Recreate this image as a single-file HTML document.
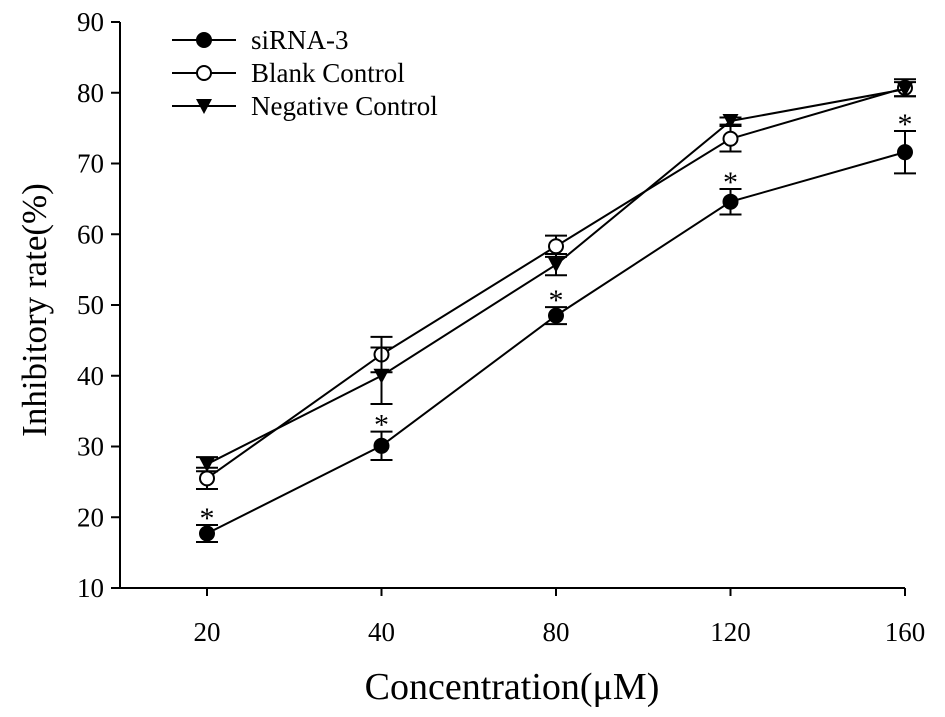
<!DOCTYPE html>
<html><head><meta charset="utf-8"><style>body{margin:0;background:#fff}svg{display:block;font-family:"Liberation Serif",serif}</style></head>
<body>
<svg id="chart" width="945" height="717" viewBox="0 0 945 717" xmlns="http://www.w3.org/2000/svg"></svg>
<script>
const categories = ["20","40","80","120","160"];
const yTicks = [10,20,30,40,50,60,70,80,90];
const siRNA = [17.7,30.1,48.5,64.6,71.6];
const siRNAErr = [1.2,2.0,1.2,1.8,3.0];
const blank = [25.5,43.0,58.3,73.5,80.7];
const blankErr = [1.5,2.5,1.5,1.8,1.2];
const negative = [27.5,40.0,55.7,76.0,80.5];
const negativeErr = [1.0,4.0,1.5,0.5,1.0];
const seriesNames = ["siRNA-3","Blank Control","Negative Control"];

const NS="http://www.w3.org/2000/svg";
const svg=document.getElementById('chart');
function el(t,a,p){const e=document.createElementNS(NS,t);for(const k in a)e.setAttribute(k,a[k]);(p||svg).appendChild(e);return e;}
const L=120,B=588,T=22;
function y(v){return B-(v-10)*(B-T)/80;}
function x(i){return 207+i*174.5;}

let e;
e=el('line',{x1:L,y1:T,x2:L,y2:B,stroke:'#000','stroke-width':2});


e=el('line',{x1:L,y1:B,x2:x(4),y2:B,stroke:'#000','stroke-width':2});


yTicks.forEach(v=>{
  e=el('line',{x1:L-9,y1:y(v),x2:L,y2:y(v),stroke:'#000','stroke-width':2});
  
  
  e=el('text',{x:L-16,y:y(v)+9,'text-anchor':'end','font-size':27});
  e.textContent=v;
  
  
});
categories.forEach((c,i)=>{
  e=el('text',{x:x(i),y:B+53,'text-anchor':'middle','font-size':27});
  e.textContent=c;
  
  
  e=el('line',{x1:x(i),y1:B,x2:x(i),y2:B+8,stroke:'#000','stroke-width':2});
  
  
});
e=el('text',{x:512,y:699,'text-anchor':'middle','font-size':38});
e.textContent='Concentration(μM)';


e=el('text',{x:0,y:0,'text-anchor':'middle','font-size':35,transform:'translate(46,310) rotate(-90)'});
e.textContent='Inhibitory rate(%)';



function marker(type,cx,cy,g){
  if(type==='tri') return el('path',{d:`M${cx-8},${cy-7} L${cx+8},${cy-7} L${cx},${cy+8} Z`,fill:'#000'},g);
  return el('circle',{cx:cx,cy:cy,r:7,fill:type==='filled'?'#000':'#fff',stroke:'#000','stroke-width':2},g);
}
function drawSeries(vals,errs,type,name){
  const g=el('g',{});
  
  
  e=el('polyline',{points:vals.map((v,i)=>x(i)+','+y(v)).join(' '),fill:'none',stroke:'#000','stroke-width':2},g);
  
  
  vals.forEach((v,i)=>{
    const a=y(v+errs[i]),b=y(v-errs[i]);
    e=el('path',{d:`M${x(i)},${a}V${b}M${x(i)-11},${a}H${x(i)+11}M${x(i)-11},${b}H${x(i)+11}`,stroke:'#000','stroke-width':2,fill:'none'},g);
    
    
  });
  vals.forEach((v,i)=>{
    e=marker(type,x(i),y(v),g);
    
    
  });
}
drawSeries(blank,blankErr,'open','blank-control');
drawSeries(negative,negativeErr,'tri','negative-control');
drawSeries(siRNA,siRNAErr,'filled','sirna-3');
siRNA.forEach((v,i)=>{
  e=el('text',{x:x(i),y:y(v+siRNAErr[i])+3,'text-anchor':'middle','font-size':30});
  e.textContent='*';
  
  
});
const types=['filled','open','tri'];
seriesNames.forEach((n,k)=>{
  const ly=40+k*33;
  const g=el('g',{});
  
  
  el('line',{x1:172,y1:ly,x2:236,y2:ly,stroke:'#000','stroke-width':2},g);
  marker(types[k],204,ly,g);
  const t=el('text',{x:251,y:ly+9,'font-size':27},g);
  t.textContent=n;
});
</script>
</body></html>
